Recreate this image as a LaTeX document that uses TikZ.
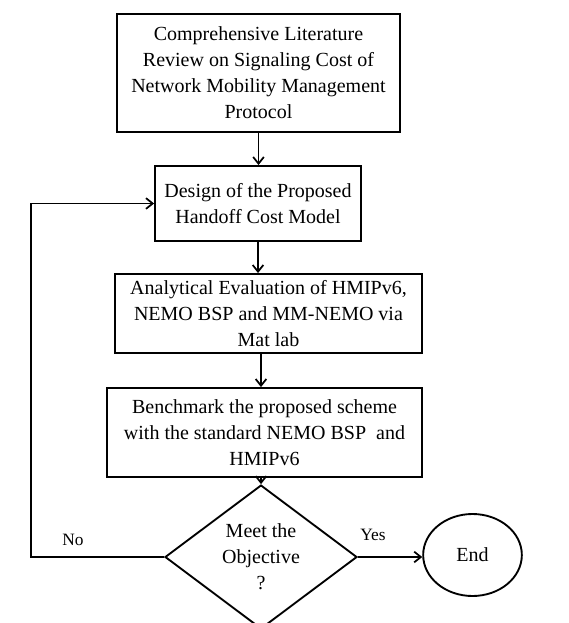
\documentclass[tikz,border=0pt]{standalone}
\usepackage{fontspec}
\setmainfont{Liberation Serif}
\usetikzlibrary{shapes.geometric,arrows.meta}
\begin{document}
\begin{tikzpicture}[x=0.75pt,y=-0.75pt,
  every node/.style={font=\fontsize{15pt}{19.5pt}\selectfont},
  box/.style={draw,line width=1.4pt,align=center,inner sep=0pt},
  conn/.style={line width=1.3pt,-{Straight Barb[length=5pt,width=8pt,line width=1.3pt]}},
  lbl/.style={font=\fontsize{13pt}{15pt}\selectfont}]
\useasboundingbox (0,0) rectangle (568,623);
\node[box,minimum width=212.25pt,minimum height=88.5pt] (b1) at (258.5,73)
  {Comprehensive Literature\\Review on Signaling Cost of\\Network Mobility Management\\Protocol};
\node[box,minimum width=154.5pt,minimum height=56.25pt] (b2) at (258,203.5)
  {Design of the Proposed\\Handoff Cost Model};
\node[box,minimum width=230.25pt,minimum height=59.25pt] (b3) at (268.5,313.5)
  {Analytical Evaluation of HMIPv6,\\NEMO BSP and MM-NEMO via\\Mat lab};
\node[box,minimum width=236.25pt,minimum height=66.75pt] (b4) at (264.5,432.5)
  {Benchmark the proposed scheme\\with the standard NEMO BSP~ and\\HMIPv6};
\node[draw,diamond,line width=1.4pt,minimum width=144pt,minimum height=87pt,inner sep=0pt,align=center] (d) at (261,557)
  {Meet the\\Objective\\?};
\node[draw,ellipse,line width=1.4pt,minimum width=74pt,minimum height=61.5pt,inner sep=0pt] (e) at (472.5,555) {End};
\node[lbl] (no) at (73,540) {No};
\node[lbl] (yes) at (373,535) {Yes};
\coordinate (c1) at (31,557);
\coordinate (c2) at (31,203.5);
\draw[conn] (b1.south) -- (b1.south |- b2.north);
\draw[conn] (b2.south) -- (b2.south |- b3.north);
\draw[conn] (d.north |- b3.south) -- (d.north |- b4.north);
\draw[conn] (d.north |- b4.south) -- (d.north);
\draw[conn] (d.east) -- (d.east -| e.west);
\draw[conn] (d.west) -- (c1) -- (c2) -- (b2.west);
\end{tikzpicture}
\end{document}
